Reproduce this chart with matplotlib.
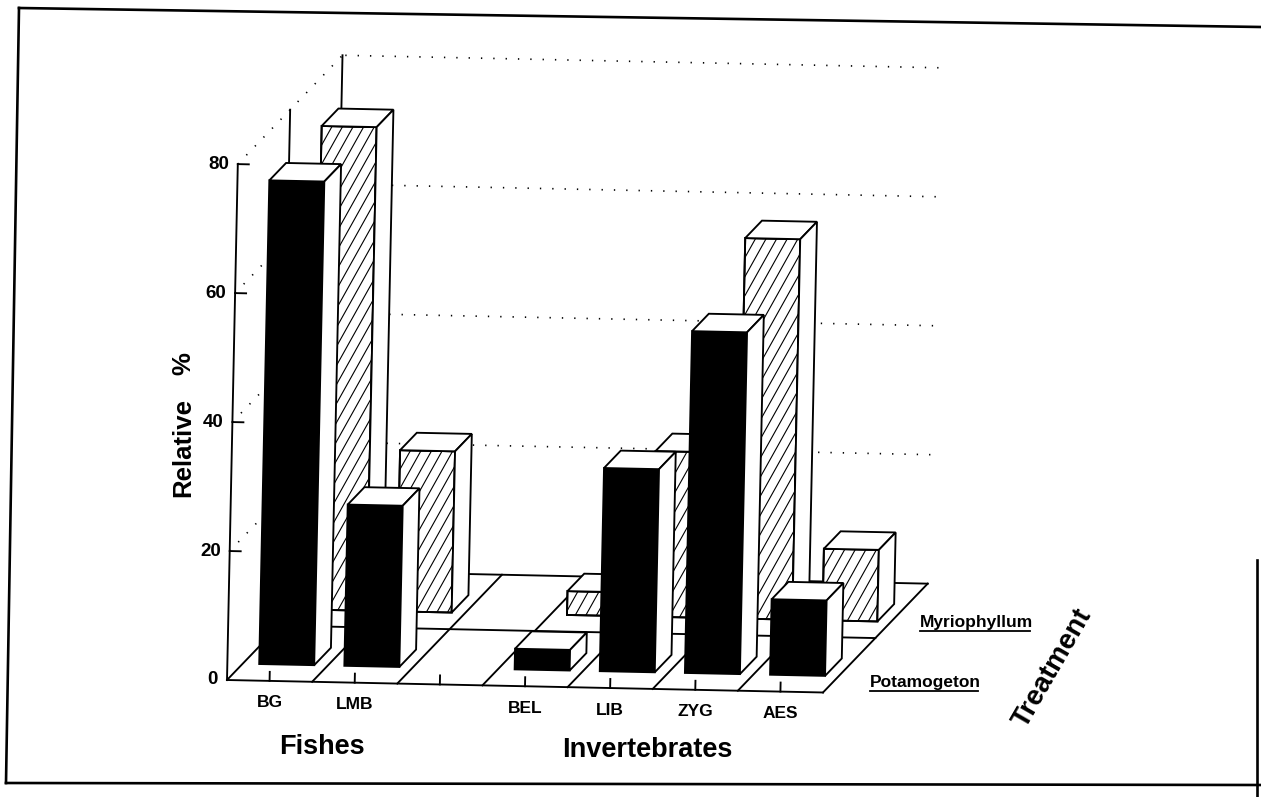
import matplotlib
matplotlib.use('Agg')
import matplotlib.pyplot as plt
from matplotlib.patches import Polygon
from matplotlib.collections import LineCollection
from matplotlib.transforms import Affine2D, offset_copy
import numpy as np

# ---------------- data ----------------
categories = ['BG', 'LMB', '', 'BEL', 'LIB', 'ZYG', 'AES']
group_names = ['Fishes', 'Invertebrates']
treatments = ['Potamogeton', 'Myriophyllum']
potamogeton = [75.0, 25.0, np.nan, 3.2, 31.5, 53.0, 11.7]
myriophyllum = [75.0, 25.0, np.nan, 3.7, 25.7, 59.0, 11.1]
y_ticks = [0, 20, 40, 60, 80]
y_label = ['Relative', '%']
z_label = 'Treatment'

# ---------------- style / geometry ----------------
plt.rcParams['font.family'] = ['Liberation Sans', 'DejaVu Sans']
W, K = 85.16, 6.45          # px per slot, px per percent
DX, DY = 51.2, 55.5         # px per treatment row (oblique depth)
F_IN, B_DEP = 0.30, 0.32    # bar set-back and depth (row fraction)
X_IN, BAR_W = 16.5 / W, 55.0 / W
ORIGIN = (227, 117)
TILT = -1.2
LW = 1.35

fig = plt.figure(figsize=(12.61, 7.97), dpi=100)
ax = fig.add_axes([0, 0, 1, 1])
ax.set_xlim(0, 1261)
ax.set_ylim(0, 797)
ax.axis('off')

T = Affine2D().rotate_deg(TILT).translate(*ORIGIN) + ax.transData


def P(x, v, r):
    return (x * W + r * DX, v * K + r * DY)


def seg(p, q, **kw):
    ax.plot([p[0], q[0]], [p[1], q[1]], transform=T, color='black', **kw)


n = len(categories)
nrow = len(treatments)
vmax = y_ticks[-1]
dot = dict(lw=1.2, linestyle=(0, (0.8, 6.6)), zorder=1)
solid = dict(lw=LW, zorder=1, solid_capstyle='projecting')

# floor
for r in range(nrow + 1):
    seg(P(0, 0, r), P(n, 0, r), **solid)
for i in range(n + 1):
    seg(P(i, 0, 0), P(i, 0, nrow), **solid)
# left wall
for r in range(nrow + 1):
    seg(P(0, 0, r), P(0, vmax, r), **solid)
for v in y_ticks[1:]:
    seg(P(0, v, 0), P(0, v, nrow), **dot)
    seg(P(n, v, nrow), P(0, v, nrow), **dot)
    seg(P(0, v, 0), P(11 / W, v, 0), **solid)

# tick marks on floor front edge
for i in range(n):
    seg(P(i + 0.5, 0, 0), P(i + 0.5, 1.4, 0), **solid)

# ---------------- bars ----------------
zc = [3]


def hatch_lines(face, xa, xb, ya, yb, z):
    ang = np.deg2rad(62)
    sp = 10.5
    run = (yb - ya) / np.tan(ang)
    segs = []
    for x0 in np.arange(xa - run - sp, xb + sp, sp):
        segs.append([(x0, ya), (x0 + run, yb)])
    lc = LineCollection(segs, colors='black', linewidths=0.8, transform=T, zorder=z)
    ax.add_collection(lc)
    lc.set_clip_path(face)


def bar(i, val, row, hatched):
    if np.isnan(val):
        return
    x0, x1 = i + X_IN, i + X_IN + BAR_W
    r0, r1 = row + F_IN, row + F_IN + B_DEP
    z = zc[0]
    front = [P(x0, 0, r0), P(x1, 0, r0), P(x1, val, r0), P(x0, val, r0)]
    top = [P(x0, val, r0), P(x1, val, r0), P(x1, val, r1), P(x0, val, r1)]
    side = [P(x1, 0, r0), P(x1, 0, r1), P(x1, val, r1), P(x1, val, r0)]
    fc = 'white' if hatched else 'black'
    fp = Polygon(front, closed=True, facecolor=fc, edgecolor='black', lw=LW,
                 transform=T, zorder=z, joinstyle='miter')
    ax.add_patch(fp)
    if hatched:
        hatch_lines(fp, front[0][0], front[1][0], front[0][1], front[2][1], z + 0.1)
        ax.add_patch(Polygon(front, closed=True, facecolor='none', edgecolor='black',
                             lw=LW, transform=T, zorder=z + 0.2, joinstyle='miter'))
    for face in (top, side):
        ax.add_patch(Polygon(face, closed=True, facecolor='white', edgecolor='black',
                             lw=LW, transform=T, zorder=z + 0.3, joinstyle='miter'))
    zc[0] += 1


for i, val in enumerate(myriophyllum):
    bar(i, val, 1, True)
for i, val in enumerate(potamogeton):
    bar(i, val, 0, False)

# ---------------- text ----------------
bold = dict(fontweight='bold', color='black', zorder=50)
t_tick = offset_copy(T, fig=fig, x=-9, y=0, units='dots')
for v in y_ticks:
    ax.text(*P(0, v, 0), str(v), transform=t_tick, ha='right', va='center',
            fontsize=13.5, **bold)

t_cat = offset_copy(T, fig=fig, x=0, y=-22, units='dots')
for i, c in enumerate(categories):
    if c:
        ax.text(*P(i + 0.5, 0, 0), c, transform=t_cat, ha='center', va='center',
                fontsize=12.5, **bold)

ax.text(322, 50, group_names[0], ha='center', va='center', fontsize=19.5, **bold)
ax.text(647, 47, group_names[1], ha='center', va='center', fontsize=19.5, **bold)

ax.text(183, 350, y_label[0], rotation=90, ha='center', va='center', fontsize=18.5, **bold)
ax.text(183, 433, y_label[1], rotation=90, ha='center', va='center', fontsize=18.5, **bold)

tr_texts = [ax.text(870, 110, treatments[0], ha='left', va='baseline', fontsize=12.5, **bold),
            ax.text(920, 170, treatments[1], ha='left', va='baseline', fontsize=12.5, **bold)]
ax.text(1053, 129, z_label, rotation=60, ha='center', va='center', fontsize=20,
        rotation_mode='anchor', **bold)

fig.canvas.draw()
rend = fig.canvas.get_renderer()
inv = ax.transData.inverted()
for t in tr_texts:
    bb = t.get_window_extent(rend)
    (xa, ya), (xb, _) = inv.transform([(bb.x0, bb.y0), (bb.x1, bb.y0)])
    ax.plot([xa, xb - 3], [ya - 1, ya - 1], color='black', lw=1.3, zorder=50)

# page frame (scanned border)
frame = dict(color='black', lw=1.9, zorder=60)
ax.plot([19, 1261], [789, 770], **frame)
ax.plot([19, 6], [789, 14], **frame)
ax.plot([6, 1261], [14, 12], **frame)
ax.plot([1257, 1257], [237, 0], **frame)

fig.savefig('out.png', dpi=100, facecolor='white')
